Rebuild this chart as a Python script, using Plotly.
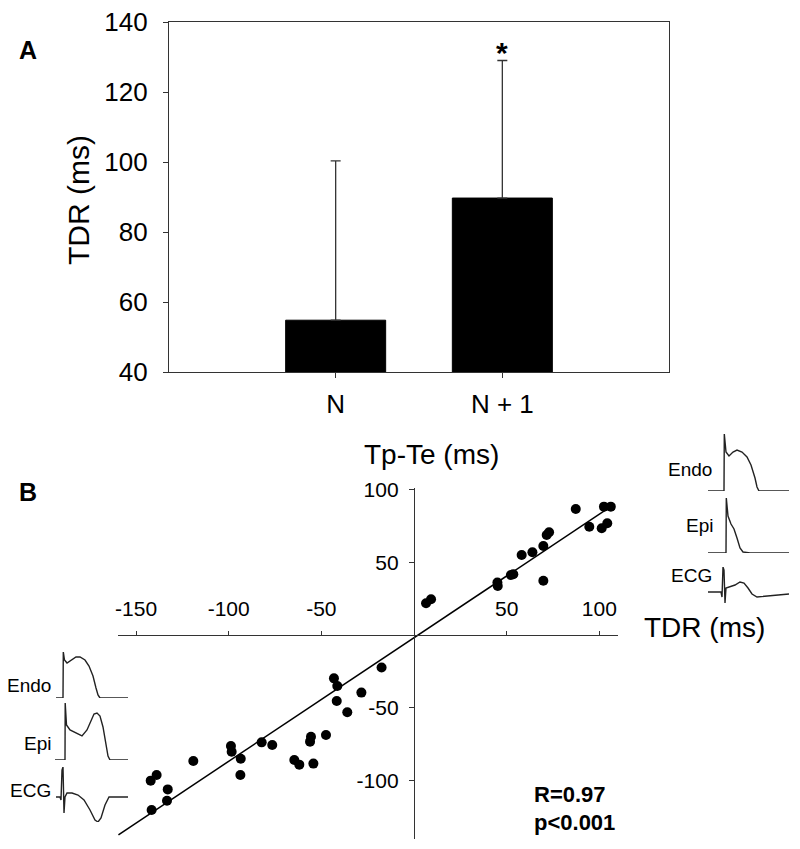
import plotly.graph_objects as go

W, H = 800, 849
PAGE_OFFSET = 8  # default body margin of the html page
FONT = "Liberation Sans, Arial, sans-serif"
INK = "#222222"

# ---------------- Panel A data ----------------
categories = ["N", "N + 1"]
tdr_mean = [54.8, 89.7]
tdr_sd = [45.5, 39.3]
a_yticks = [40, 60, 80, 100, 120, 140]

# ---------------- Panel B data ----------------
tpte_x = [-141.6, -142.1, -138.9, -132.9, -133.3, -119.1, -98.8, -98.4, -93.5, -93.7,
          -82.2, -76.5, -64.6, -61.9, -54.3, -56.1, -55.6, -47.5, -43.2, -41.4,
          -41.7, -36.0, -28.4, -17.5, 6.5, 9.2, 45.0, 45.2, 52.3, 53.6,
          58.1, 63.9, 69.8, 71.6, 72.9, 69.8, 87.3, 94.6, 102.5, 106.2,
          101.3, 104.3]
tdr_y = [-120.3, -100.1, -96.2, -106.1, -113.9, -86.6, -76.3, -80.2, -85.0, -96.2,
         -73.8, -75.6, -85.9, -89.1, -88.4, -73.3, -69.9, -68.7, -29.8, -35.1,
         -45.4, -53.1, -39.6, -22.4, 21.8, 24.5, 36.0, 33.7, 41.2, 41.7,
         55.0, 56.8, 61.2, 68.7, 70.6, 37.3, 86.6, 74.4, 88.2, 88.2,
         73.3, 76.8]
fit_slope = 0.849
fit_intercept = -1.9
fit_x = [-159.5, 106.0]
fit_y = [fit_slope * v + fit_intercept for v in fit_x]
b_xticks = [-150, -100, -50, 50, 100]
b_xticktext = ["-150", "-100", "-50", "50", "100"]
b_yticks = [-100, -50, 50, 100]
b_yticktext = ["-100", "-50", "50", "100"]

# ---------------- Inset waveforms (schematic action potentials / ECG) ----------------
lq_endo_t = [0, 7, 7.3, 8.5, 11, 15, 20, 24, 29, 33, 37, 40, 42, 44, 72]
lq_endo_v = [0, 0, 46, 38, 35, 38, 41, 41, 38, 32, 22, 10, 3, 0, 0]
lq_epi_t = [0, 10, 10.2, 11.5, 15, 21, 27, 32, 36, 39, 42, 45, 48, 51, 53, 55, 73]
lq_epi_v = [0, 0, 57, 35, 30, 27, 24, 30, 40, 46, 47, 44, 33, 15, 4, 0, 0]
lq_ecg_t = [0, 4, 5, 6, 7, 8, 9, 11, 16, 22, 28, 34, 39, 42, 45, 49, 53, 72]
lq_ecg_v = [0, 0, -3, 27, 30, -16, 0, 4, 4, 2, -3, -13, -23, -25, -21, -8, 0, 0]

nm_endo_t = [0, 16, 16.3, 18, 21, 25, 29, 34, 39, 43, 47, 49, 51, 81]
nm_endo_v = [0, 0, 57, 39, 35, 39, 41, 39, 34, 26, 13, 4, 0, 0]
nm_epi_t = [0, 18, 18.3, 20, 23, 26, 29, 32, 35, 42, 81]
nm_epi_v = [0, 0, 55, 37, 29, 24, 15, 5, 1, 0, 0]
nm_ecg_t = [0, 13, 14, 15, 16, 17, 18, 21, 27, 32, 36, 40, 44, 49, 62, 81]
nm_ecg_v = [0, 0, -5, 25, 22, -11, 4, 5, 7, 10, 9, 4, -2, -5, -4, -2]


def px_x(p):
    return (p - PAGE_OFFSET) / W


def px_y(p):
    return 1 - (p - PAGE_OFFSET) / H


fig = go.Figure()

# Panel A bars
fig.add_trace(go.Bar(
    x=categories, y=tdr_mean, width=0.6,
    marker=dict(color="black", line=dict(color="black", width=1)),
    error_y=dict(type="data", array=tdr_sd, arrayminus=[0, 0], symmetric=False,
                 color="#333333", thickness=1.3, width=5),
    xaxis="x", yaxis="y", showlegend=False,
))

# Panel B scatter + regression line
fig.add_trace(go.Scatter(
    x=fit_x, y=fit_y, mode="lines", line=dict(color="black", width=1.5),
    xaxis="x2", yaxis="y2", showlegend=False,
))
fig.add_trace(go.Scatter(
    x=tpte_x, y=tdr_y, mode="markers", marker=dict(color="black", size=10),
    xaxis="x2", yaxis="y2", showlegend=False,
))

axis_common = dict(showgrid=False, zeroline=False, showline=True, linecolor="#333333",
                   linewidth=1.3, ticks="outside", tickcolor="#333333", tickwidth=1.3,
                   color="black", automargin=False, ticklabeloverflow="allow")

layout = dict(
    template="none",
    width=W, height=H, margin=dict(l=0, r=0, t=0, b=0, pad=0),
    paper_bgcolor="white", plot_bgcolor="rgba(0,0,0,0)",
    font=dict(family=FONT, color="black"),
    showlegend=False,
    xaxis=dict(axis_common, domain=[px_x(169), px_x(669)], range=[-1, 2], anchor="y",
               mirror=True, ticklen=5, tickfont=dict(size=26), ticklabelstandoff=4),
    yaxis=dict(axis_common, domain=[px_y(372), px_y(22)], range=[40, 140],
               tickvals=a_yticks, anchor="x", mirror=True, ticklen=5,
               tickfont=dict(size=26), ticklabelstandoff=10),
    xaxis2=dict(axis_common, domain=[px_x(118), px_x(618)], range=[-159.74, 110.09],
                anchor="free", position=px_y(635), side="top", tickvals=b_xticks,
                ticktext=b_xticktext, ticklen=4, tickfont=dict(size=21),
                ticklabelstandoff=6),
    yaxis2=dict(axis_common, domain=[px_y(839), px_y(488)], range=[-140.2, 101],
                anchor="free", position=px_x(414), side="left", tickvals=b_yticks,
                ticktext=b_yticktext, ticklen=5, tickfont=dict(size=21),
                ticklabelstandoff=6),
)

# Inset axes
insets = [
    (lq_endo_t, lq_endo_v, (56, 128), (652, 698)),
    (lq_epi_t, lq_epi_v, (55, 128), (703, 760)),
    (lq_ecg_t, lq_ecg_v, (56, 128), (767, 822)),
    (nm_endo_t, nm_endo_v, (708, 789), (434, 491)),
    (nm_epi_t, nm_epi_v, (708, 789), (498, 553)),
    (nm_ecg_t, nm_ecg_v, (708, 789), (567, 603)),
]
for i, (t, v, bx, by) in enumerate(insets):
    n = i + 3
    fig.add_trace(go.Scatter(x=t, y=v, mode="lines", line=dict(color=INK, width=1.4),
                             xaxis=f"x{n}", yaxis=f"y{n}", showlegend=False,
                             cliponaxis=False))
    layout[f"xaxis{n}"] = dict(domain=[px_x(bx[0]), px_x(bx[1])], range=[min(t), max(t)],
                               visible=False, anchor=f"y{n}", automargin=False)
    layout[f"yaxis{n}"] = dict(domain=[px_y(by[1]), px_y(by[0])], range=[min(v), max(v)],
                               visible=False, anchor=f"x{n}", automargin=False)

fig.update_layout(**layout)

ann = []


def add_text(text, x, y, size, bold=False, xanchor="center", yanchor="middle",
             angle=0, xref="paper", yref="paper"):
    ann.append(dict(text=f"<b>{text}</b>" if bold else text, x=x, y=y, xref=xref,
                    yref=yref, xanchor=xanchor, yanchor=yanchor, showarrow=False,
                    textangle=angle, font=dict(size=size, family=FONT, color="black")))


add_text("A", px_x(28), px_y(50), 25, bold=True)
add_text("B", px_x(28), px_y(492), 25, bold=True)
add_text("TDR (ms)", px_x(78), px_y(200), 30, angle=-90)
add_text("*", px_x(502), px_y(52), 30, bold=True)
add_text("Tp-Te (ms)", px_x(431), px_y(455), 28)
add_text("TDR (ms)", px_x(642), px_y(627), 28, xanchor="left")
add_text("R=0.97", px_x(532), px_y(794), 22, bold=True, xanchor="left")
add_text("p&lt;0.001", px_x(532), px_y(822), 22, bold=True, xanchor="left")
# inset labels
add_text("Endo", px_x(53), px_y(685), 19, xanchor="right")
add_text("Epi", px_x(53), px_y(743), 19, xanchor="right")
add_text("ECG", px_x(53), px_y(790), 19, xanchor="right")
add_text("Endo", px_x(714), px_y(469), 19, xanchor="right")
add_text("Epi", px_x(715), px_y(525), 19, xanchor="right")
add_text("ECG", px_x(714), px_y(575), 19, xanchor="right")

fig.update_layout(annotations=ann)
fig.write_html("out.html")
